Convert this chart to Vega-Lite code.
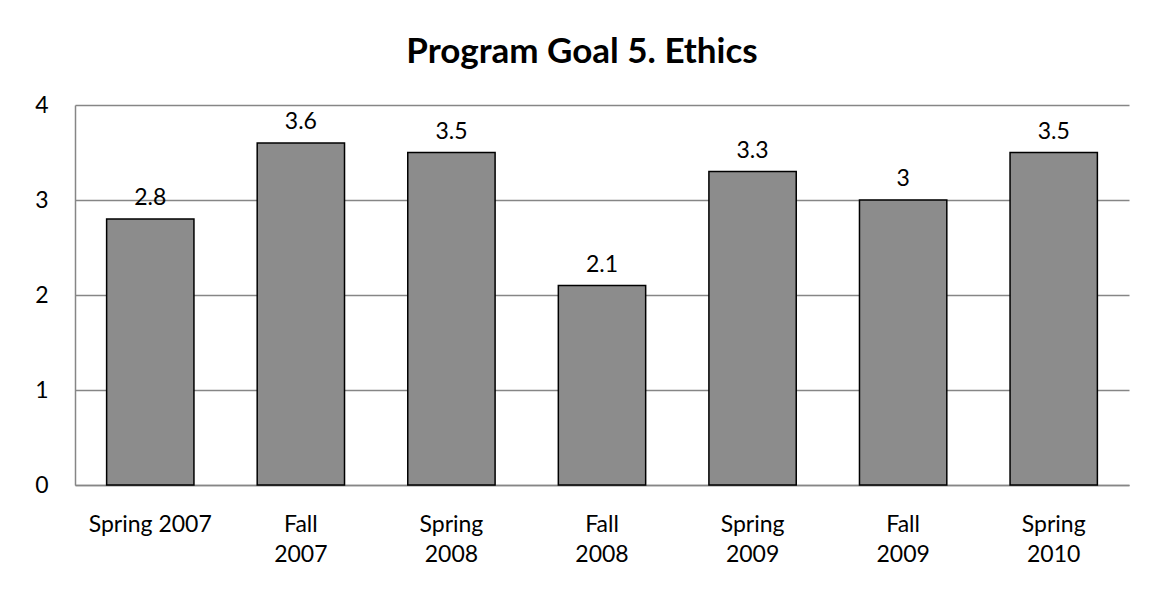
{
  "$schema": "https://vega.github.io/schema/vega-lite/v6.json",
  "width": 1054,
  "height": 380,
  "autosize": {"type": "none"},
  "padding": {"left": 75, "top": 105, "right": 21, "bottom": 114},
  "background": "white",
  "title": {
    "text": "Program Goal 5. Ethics",
    "font": "Lato",
    "fontSize": 35,
    "fontWeight": "bold",
    "color": "black",
    "anchor": "middle",
    "frame": "group",
    "baseline": "alphabetic",
    "dx": -20,
    "offset": -4
  },
  "data": {
    "values": [
      {"term": "Spring 2007", "score": 2.8},
      {"term": "Fall 2007", "score": 3.6},
      {"term": "Spring 2008", "score": 3.5},
      {"term": "Fall 2008", "score": 2.1},
      {"term": "Spring 2009", "score": 3.3},
      {"term": "Fall 2009", "score": 3.0},
      {"term": "Spring 2010", "score": 3.5}
    ]
  },
  "config": {
    "view": {"stroke": null},
    "font": "Lato",
    "axis": {
      "labelFont": "Lato",
      "labelFontSize": 23,
      "labelColor": "black",
      "ticks": false,
      "domainColor": "#868686",
      "domainWidth": 1.5,
      "gridColor": "#868686",
      "gridWidth": 1.5,
      "gridOpacity": 1,
      "title": null
    }
  },
  "layer": [
    {
      "mark": {"type": "bar", "fill": "#8c8c8c", "stroke": "black", "strokeWidth": 1.5},
      "encoding": {
        "x": {
          "field": "term",
          "type": "nominal",
          "sort": null,
          "scale": {"paddingInner": 0.42, "paddingOuter": 0.21},
          "axis": {
            "labelAngle": 0,
            "labelPadding": 28,
            "labelLineHeight": 30,
            "grid": false,
            "labelExpr": "datum.label == 'Spring 2007' ? datum.label : split(datum.label, ' ')"
          }
        },
        "y": {
          "field": "score",
          "type": "quantitative",
          "scale": {"domain": [0, 4]},
          "axis": {"values": [0, 1, 2, 3, 4], "format": "d", "labelPadding": 27, "grid": true}
        }
      }
    },
    {
      "mark": {"type": "text", "fontSize": 23, "font": "Lato", "color": "black", "baseline": "alphabetic", "dy": -14},
      "encoding": {
        "x": {"field": "term", "type": "nominal", "sort": null},
        "y": {"field": "score", "type": "quantitative"},
        "text": {"field": "score", "type": "quantitative"}
      }
    }
  ]
}
